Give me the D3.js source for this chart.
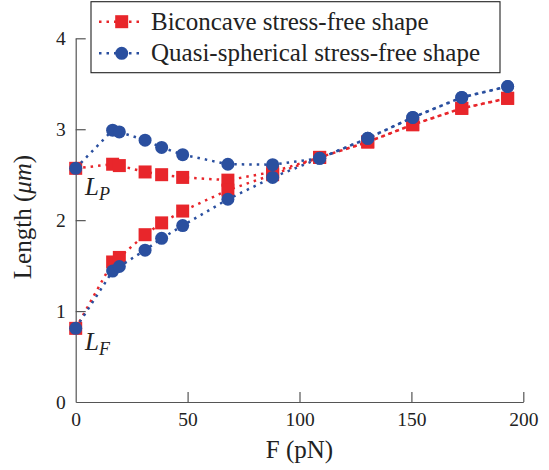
<!DOCTYPE html>
<html>
<head>
<meta charset="utf-8">
<script src="https://cdn.jsdelivr.net/npm/d3@7"></script>
</head>
<body style="margin:0; background:#fff">
<svg id="chart" width="549" height="470"></svg>
<script>
// force in pN
var force = [0, 16.5, 19.5, 31, 38.4, 47.8, 68, 88, 109, 130.5, 150.6, 172.5, 193];
// biconcave stress-free shape
var biconcaveLP = [2.57, 2.615, 2.60, 2.53, 2.50, 2.47, 2.44, 2.53, 2.69, 2.86, 3.05, 3.23, 3.34];
var biconcaveLF = [0.81, 1.54, 1.59, 1.84, 1.97, 2.10, 2.33, 2.50, 2.69, 2.86, 3.05, 3.23, 3.34];
// quasi-spherical stress-free shape
var quasiLP = [2.57, 2.99, 2.97, 2.88, 2.80, 2.72, 2.615, 2.61, 2.68, 2.90, 3.13, 3.35, 3.47];
var quasiLF = [0.81, 1.44, 1.49, 1.67, 1.80, 1.94, 2.23, 2.47, 2.68, 2.90, 3.13, 3.35, 3.47];

var xTicks = [0, 50, 100, 150, 200];
var yTicks = [0, 1, 2, 3, 4];
var legendLabels = ["Biconcave stress-free shape", "Quasi-spherical stress-free shape"];

var red = "#e8262b";
var blue = "#2a4f9f";
var axisColor = "#555";
var textColor = "#222";
var serif = "Liberation Serif";

var svg = d3.select("#chart");

var x = d3.scaleLinear().domain([0, 200]).range([75.7, 523.3]);
var y = d3.scaleLinear().domain([0, 4]).range([402, 38.3]);

// axes (ticks point inward)
var xAxis = svg.append("g")
  .attr("transform", "translate(0," + y(0) + ")")
  .call(d3.axisBottom(x).tickValues(xTicks).tickFormat(d3.format("d"))
    .tickSizeInner(-10).tickSizeOuter(0).tickPadding(10));

var yAxis = svg.append("g")
  .attr("transform", "translate(" + x(0) + ",0)")
  .call(d3.axisLeft(y).tickValues(yTicks).tickFormat(d3.format("d"))
    .tickSizeInner(-10).tickSizeOuter(0).tickPadding(10));

[xAxis, yAxis].forEach(function (g) {
  g.attr("font-family", serif).attr("font-size", 19.5);
  g.selectAll("path, line").attr("stroke", axisColor).attr("stroke-width", 1.2);
  g.selectAll("text")
    .attr("font-family", serif)
    .attr("font-size", 19.5)
    .attr("fill", textColor);
});
xAxis.selectAll(".tick").filter(function (d) { return d === 0; }).select("line").remove();
yAxis.selectAll(".tick").filter(function (d) { return d === 0; }).select("line").remove();

// axis titles
svg.append("text")
  .attr("x", (x(0) + x(200)) / 2)
  .attr("y", 458)
  .attr("text-anchor", "middle")
  .attr("font-family", serif)
  .attr("font-size", 25)
  .attr("fill", textColor)
  .text("F (pN)");

var yTitle = svg.append("text")
  .attr("transform", "translate(31," + 217 + ") rotate(-90)")
  .attr("text-anchor", "middle")
  .attr("font-family", serif)
  .attr("font-size", 25)
  .attr("fill", textColor);
yTitle.append("tspan").text("Length (");
yTitle.append("tspan").attr("font-style", "italic").text("μm");
yTitle.append("tspan").text(")");

// series
var line = d3.line()
  .x(function (d) { return x(d[0]); })
  .y(function (d) { return y(d[1]); });

function pairs(values) {
  return force.map(function (f, i) { return [f, values[i]]; });
}

var series = [
  { values: biconcaveLP, color: red, marker: "square" },
  { values: biconcaveLF, color: red, marker: "square" },
  { values: quasiLP, color: blue, marker: "circle" },
  { values: quasiLF, color: blue, marker: "circle" }
];

var markSize = 13;

function drawMarker(g, marker, color, cx, cy) {
  if (marker === "square") {
    g.append("rect")
      .attr("x", cx - markSize / 2)
      .attr("y", cy - markSize / 2)
      .attr("width", markSize)
      .attr("height", markSize)
      .attr("fill", color);
  } else {
    g.append("circle")
      .attr("cx", cx)
      .attr("cy", cy)
      .attr("r", markSize / 2)
      .attr("fill", color);
  }
}

series.forEach(function (s) {
  var g = svg.append("g");
  var data = pairs(s.values);
  g.append("path")
    .datum(data)
    .attr("d", line)
    .attr("fill", "none")
    .attr("stroke", s.color)
    .attr("stroke-width", 2.5)
    .attr("stroke-dasharray", "2.5 5");
  data.forEach(function (d) {
    drawMarker(g, s.marker, s.color, x(d[0]), y(d[1]));
  });
});

// annotations L_P and L_F
function annot(label, sub, px, py) {
  var t = svg.append("text")
    .attr("x", px)
    .attr("y", py)
    .attr("font-family", serif)
    .attr("font-size", 25)
    .attr("font-style", "italic")
    .attr("fill", textColor);
  t.append("tspan").text(label);
  t.append("tspan").attr("dy", 5).attr("font-size", 18).text(sub);
}
annot("L", "P", 85, 195);
annot("L", "F", 85, 350);

// legend
var legend = svg.append("g");
legend.append("rect")
  .attr("x", 91)
  .attr("y", 1.7)
  .attr("width", 409)
  .attr("height", 71)
  .attr("fill", "#fff")
  .attr("stroke", "#222")
  .attr("stroke-width", 1.1);

legendLabels.forEach(function (label, i) {
  var cy = 21.7 + i * 31.6;
  var s = series[i * 2];
  legend.append("line")
    .attr("x1", 99).attr("x2", 142)
    .attr("y1", cy).attr("y2", cy)
    .attr("stroke", s.color)
    .attr("stroke-width", 2.5)
    .attr("stroke-dasharray", "2.5 5");
  drawMarker(legend, s.marker, s.color, 121.7, cy);
  legend.append("text")
    .attr("x", 151)
    .attr("y", cy + 8)
    .attr("font-family", serif)
    .attr("font-size", 25)
    .attr("fill", textColor)
    .text(label);
});
</script>
</body>
</html>
